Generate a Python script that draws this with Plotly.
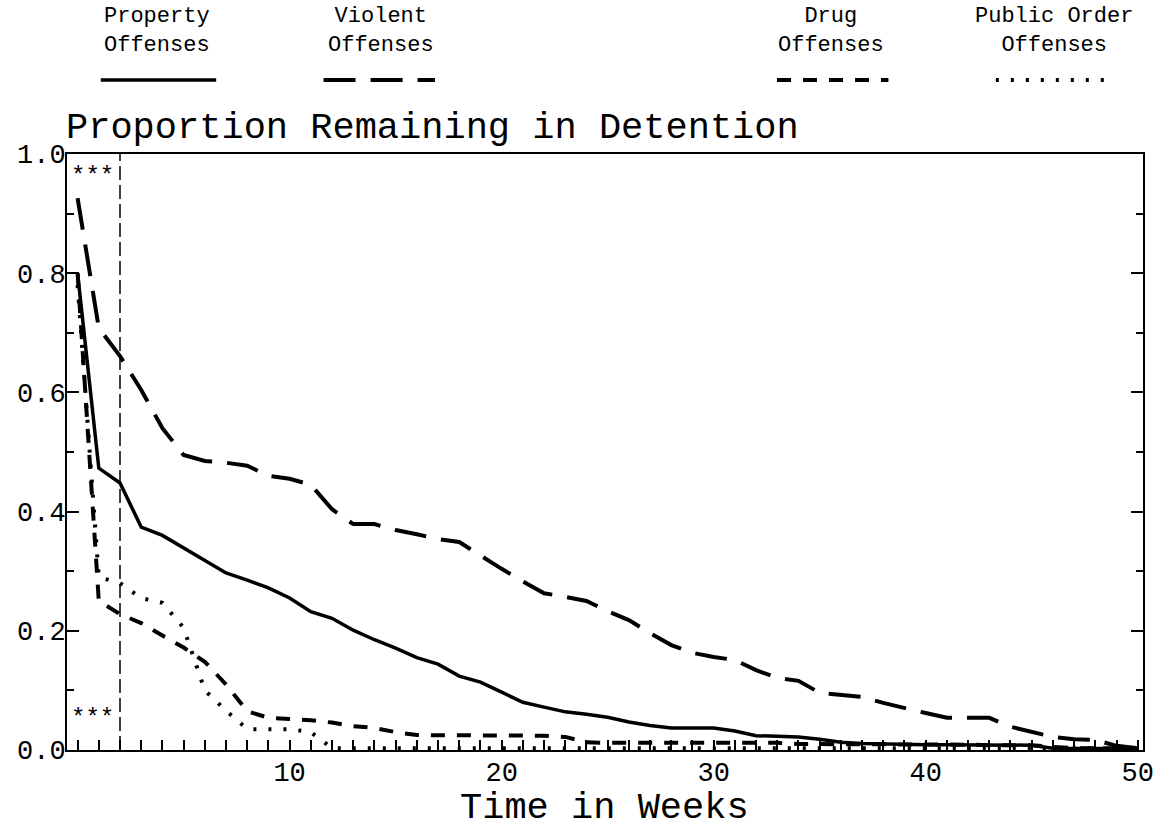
import plotly.graph_objects as go

# ---------------- data ----------------
weeks = list(range(0, 51))

property_offenses = [
    0.800, 0.473, 0.448, 0.374, 0.360, 0.339, 0.317, 0.297, 0.285, 0.272,
    0.255, 0.232, 0.221, 0.201, 0.185, 0.171, 0.155, 0.144, 0.124, 0.114,
    0.097, 0.080, 0.072, 0.064, 0.060, 0.055, 0.047, 0.041, 0.037, 0.037,
    0.037, 0.032, 0.024, 0.023, 0.022, 0.018, 0.013, 0.011, 0.010, 0.010,
    0.009, 0.009, 0.009, 0.008, 0.008, 0.008, 0.003, 0.003, 0.003, 0.002, 0.002,
]

violent_offenses = [
    0.926, 0.708, 0.661, 0.604, 0.540, 0.495, 0.485, 0.482, 0.477, 0.460,
    0.455, 0.445, 0.404, 0.379, 0.379, 0.369, 0.362, 0.354, 0.349, 0.326,
    0.304, 0.283, 0.263, 0.257, 0.250, 0.233, 0.218, 0.196, 0.176, 0.163,
    0.156, 0.151, 0.134, 0.121, 0.116, 0.096, 0.092, 0.089, 0.079, 0.070,
    0.062, 0.054, 0.054, 0.054, 0.039, 0.030, 0.022, 0.018, 0.017, 0.007, 0.003,
]

drug_offenses = [
    0.800, 0.250, 0.228, 0.213, 0.192, 0.172, 0.148, 0.110, 0.065, 0.054,
    0.052, 0.050, 0.046, 0.040, 0.037, 0.030, 0.025, 0.025, 0.025, 0.025,
    0.025, 0.025, 0.024, 0.022, 0.013, 0.012, 0.012, 0.012, 0.012, 0.012,
    0.012, 0.012, 0.012, 0.012, 0.010, 0.010, 0.010, 0.010, 0.009, 0.009,
    0.009, 0.009, 0.009, 0.008, 0.008, 0.008, 0.005, 0.003, 0.003, 0.003, 0.003,
]

public_order_offenses = [
    0.780, 0.290, 0.280, 0.255, 0.247, 0.205, 0.100, 0.066, 0.035, 0.035,
    0.035, 0.030, 0.003, 0.003, 0.003, 0.003, 0.003, 0.003, 0.003, 0.003,
    0.003, 0.003, 0.003, 0.003, 0.003, 0.003, 0.003, 0.003, 0.003, 0.003,
    0.003, 0.003, 0.003, 0.003, 0.003, 0.003, 0.003, 0.003, 0.003, 0.003,
    0.003, 0.003, 0.003, 0.003, 0.003, 0.003, 0.003, 0.003, 0.003, 0.003, 0.003,
]

cutoff_week = 2
x_tick_vals = [10, 20, 30, 40, 50]
y_tick_vals = [0.0, 0.2, 0.4, 0.6, 0.8, 1.0]
star_label = "***"
star_week = 0.7
star_levels = [0.962, 0.053]

legend_names = ["Property<br>Offenses", "Violent<br>Offenses",
                "Drug<br>Offenses", "Public Order<br>Offenses"]

# ---------------- styling ----------------
FONT = "Liberation Mono"
W, H = 1166, 840
PLOT_L, PLOT_R, PLOT_T, PLOT_B = 67, 1149, 154, 750   # page pixels
ML, MT = PLOT_L, PLOT_T
MR = W - PLOT_R
MB = H - PLOT_B
PW, PH = PLOT_R - PLOT_L, PLOT_B - PLOT_T


def px_x(px):
    return (px - PLOT_L) / PW


def px_y(py):
    return (PLOT_B - py) / PH


series = [
    (property_offenses, "solid", 3.5),
    (violent_offenses, "32px,15px", 4),
    (drug_offenses, "14px,12px", 4),
    (public_order_offenses, "3px,12px", 4),
]

fig = go.Figure()

for vals, dash, w in series:
    fig.add_trace(go.Scatter(
        x=weeks, y=vals, mode="lines",
        line=dict(color="black", width=w, dash=dash),
        showlegend=False, hoverinfo="skip",
    ))

# vertical reference line
fig.add_trace(go.Scatter(
    x=[cutoff_week, cutoff_week], y=[0, 1], mode="lines",
    line=dict(color="black", width=1.5, dash="14px,5px"),
    showlegend=False, hoverinfo="skip",
))

annotations = []
for lvl in star_levels:
    annotations.append(dict(
        x=star_week, y=lvl, xref="x", yref="y", text=star_label,
        showarrow=False, font=dict(family=FONT, size=24, color="black"),
        xanchor="center", yanchor="middle",
    ))

# title
annotations.append(dict(
    x=px_x(64), y=px_y(128), xref="paper", yref="paper",
    text="Proportion Remaining in Detention", showarrow=False,
    font=dict(family=FONT, size=37, color="black"),
    xanchor="left", yanchor="middle",
))

# x-axis title
annotations.append(dict(
    x=px_x(607), y=px_y(808), xref="paper", yref="paper",
    text="Time in Weeks", showarrow=False,
    font=dict(family=FONT, size=37, color="black"),
    xanchor="center", yanchor="middle",
))

# legend text and keys
legend_centers = [157, 383, 835, 1060]
legend_lines = [(101, 217), (325, 437), (781, 893), (1001, 1117)]
shapes = []
for (name, cx, (x0, x1), (_, dash, w)) in zip(legend_names, legend_centers, legend_lines, series):
    annotations.append(dict(
        x=px_x(cx), y=px_y(31), xref="paper", yref="paper",
        text=name, showarrow=False,
        font=dict(family=FONT, size=22, color="black"),
        xanchor="center", yanchor="middle",
    ))
    shapes.append(dict(
        type="line", xref="paper", yref="paper",
        x0=px_x(x0), x1=px_x(x1), y0=px_y(80), y1=px_y(80),
        line=dict(color="black", width=w, dash=dash),
    ))

fig.update_layout(
    width=W, height=H,
    margin=dict(l=ML, r=MR, t=MT, b=MB, pad=0),
    paper_bgcolor="white", plot_bgcolor="white",
    font=dict(family=FONT, size=27, color="black"),
    annotations=annotations, shapes=shapes,
    showlegend=False,
)

fig.update_xaxes(
    range=[-0.5, 50.25], showgrid=False, zeroline=False,
    showline=True, linecolor="black", linewidth=2, mirror=True,
    tickmode="array", tickvals=x_tick_vals,
    ticktext=[str(v) for v in x_tick_vals],
    ticks="inside", ticklen=10, tickwidth=1.5, tickcolor="black",
    ticklabelstandoff=-3,
    minor=dict(dtick=1, tick0=0, ticks="inside", ticklen=10,
               tickwidth=1.5, tickcolor="black", showgrid=False),
    tickfont=dict(family=FONT, size=27, color="black"),
)

fig.update_yaxes(
    range=[0, 1], showgrid=False, zeroline=False,
    showline=True, linecolor="black", linewidth=2, mirror="ticks",
    tickmode="array", tickvals=y_tick_vals,
    ticktext=[f"{v:.1f}" for v in y_tick_vals],
    ticks="inside", ticklen=12, tickwidth=1.5, tickcolor="black",
    ticklabelstandoff=-6,
    minor=dict(dtick=0.1, tick0=0, ticks="inside", ticklen=7,
               tickwidth=1.5, tickcolor="black", showgrid=False),
    tickfont=dict(family=FONT, size=27, color="black"),
)

fig.write_html(
    "out.html",
    config={"displayModeBar": False},
    post_script="document.body.style.margin='0px';document.body.style.overflow='hidden';",
)
